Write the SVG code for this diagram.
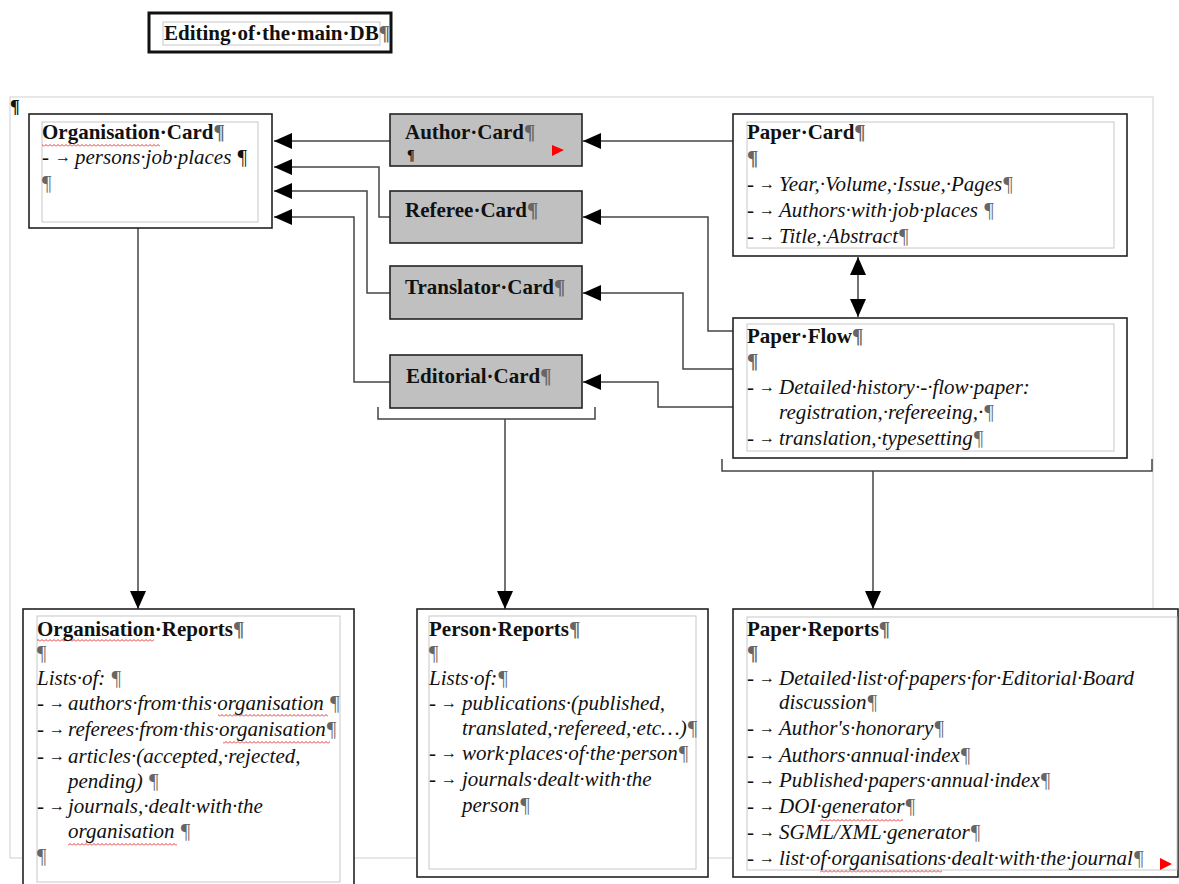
<svg xmlns="http://www.w3.org/2000/svg" width="1179" height="884" viewBox="0 0 1179 884">
  <style>
    .t { font-family: "Liberation Serif", "Times New Roman", serif; font-size: 21px; fill: #111; }
    .b { font-weight: bold; }
    .i { font-style: italic; }
    .pm { fill: #666; }
    .arr { font-size: 16px; }
    .box { fill: #fff; stroke: #222; stroke-width: 1.6; }
    .card { fill: #c0c0c0; stroke: #222; stroke-width: 1.6; }
    .inner { fill: none; stroke: #c8c8c8; stroke-width: 1; }
    .page { fill: none; stroke: #cfcfcf; stroke-width: 1; }
    .conn { fill: none; stroke: #444; stroke-width: 1.5; }
    .wave { fill: url(#wavy); }
  </style>
  <defs>
    <marker id="ah" markerUnits="userSpaceOnUse" markerWidth="18" markerHeight="16" viewBox="0 0 18 16" refX="18" refY="8" orient="auto-start-reverse">
      <path d="M0,0 L18,8 L0,16 z" fill="#000"/>
    </marker>
    <pattern id="wavy" patternUnits="userSpaceOnUse" width="4" height="3">
      <path d="M0,2.5 L2,0.5 L4,2.5" fill="none" stroke="#e02020" stroke-width="0.9"/>
    </pattern>
  </defs>

  <rect width="1179" height="884" fill="#fff"/>

  <!-- page boundary -->
  <rect class="page" x="10" y="97" width="1143" height="761"/>
  <text class="t b" x="10" y="113" style="font-size:18px">¶</text>

  <!-- title -->
  <g id="title">
    <rect x="149" y="13" width="242" height="39" fill="#fff" stroke="#111" stroke-width="3"/>
    <rect class="inner" x="163" y="22" width="217" height="23"/>
    <text class="t b" x="164" y="40">Editing·of·the·main·DB<tspan class="pm">¶</tspan></text>
  </g>

  <!-- connectors -->
  <g id="connectors">
    <path class="conn" d="M390,141 H274" marker-end="url(#ah)"/>
    <path class="conn" d="M390,217 H379 V167 H274" marker-end="url(#ah)"/>
    <path class="conn" d="M390,293 H367 V191 H274" marker-end="url(#ah)"/>
    <path class="conn" d="M390,382 H354 V217 H274" marker-end="url(#ah)"/>
    <path class="conn" d="M733,141 H583" marker-end="url(#ah)"/>
    <path class="conn" d="M733,331 H708 V217 H583" marker-end="url(#ah)"/>
    <path class="conn" d="M733,369 H683 V293 H583" marker-end="url(#ah)"/>
    <path class="conn" d="M733,407 H658 V382 H583" marker-end="url(#ah)"/>
    <path class="conn" d="M858,257 V317" marker-start="url(#ah)" marker-end="url(#ah)"/>
    <path class="conn" d="M138,228 V609" marker-end="url(#ah)"/>
    <path class="conn" d="M378,407 V419 H595 V407"/>
    <path class="conn" d="M505,419 V609" marker-end="url(#ah)"/>
    <path class="conn" d="M722,459 V471 H1152 V459"/>
    <path class="conn" d="M873,471 V609" marker-end="url(#ah)"/>
  </g>

  <!-- Organisation Card -->
  <g id="organisation-card">
    <rect class="box" x="29" y="114" width="243" height="114"/>
    <rect class="inner" x="42" y="122" width="216" height="100"/>
    <rect class="wave" x="42" y="144" width="118" height="3"/>
    <text class="t b" x="42" y="139">Organisation·Card<tspan class="pm">¶</tspan></text>
    <text class="t" x="42" y="164">-<tspan class="arr" x="55" dy="-2">→</tspan><tspan class="i" x="75" dy="2">persons·job·places ¶</tspan></text>
    <text class="t pm" x="42" y="190">¶</text>
  </g>

  <!-- Author Card -->
  <g id="author-card">
    <rect class="card" x="390" y="114" width="192" height="52"/>
    <text class="t b" x="405" y="139">Author·Card<tspan class="pm">¶</tspan></text>
    <text class="t b" x="407" y="160" style="font-size:14px">¶</text>
    <path d="M552,145 L564,150 L552,156 z" fill="#f00"/>
  </g>

  <!-- Referee Card -->
  <g id="referee-card">
    <rect class="card" x="390" y="191" width="192" height="52"/>
    <text class="t b" x="405" y="217">Referee·Card<tspan class="pm">¶</tspan></text>
  </g>

  <!-- Translator Card -->
  <g id="translator-card">
    <rect class="card" x="390" y="266" width="192" height="53"/>
    <text class="t b" x="405" y="294">Translator·Card<tspan class="pm">¶</tspan></text>
  </g>

  <!-- Editorial Card -->
  <g id="editorial-card">
    <rect class="card" x="390" y="355" width="192" height="53"/>
    <text class="t b" x="406" y="383">Editorial·Card<tspan class="pm">¶</tspan></text>
  </g>

  <!-- Paper Card -->
  <g id="paper-card">
    <rect class="box" x="733" y="114" width="394" height="142"/>
    <rect class="inner" x="747" y="122" width="367" height="126"/>
    <text class="t b" x="747" y="139">Paper·Card<tspan class="pm">¶</tspan></text>
    <text class="t b pm" x="747" y="165">¶</text>
    <text class="t" x="747" y="191">-<tspan class="arr" x="759" dy="-2">→</tspan><tspan class="i" x="779" dy="2">Year,·Volume,·Issue,·Pages<tspan class="pm">¶</tspan></tspan></text>
    <text class="t" x="747" y="217">-<tspan class="arr" x="759" dy="-2">→</tspan><tspan class="i" x="779" dy="2">Authors·with·job·places <tspan class="pm">¶</tspan></tspan></text>
    <text class="t" x="747" y="243">-<tspan class="arr" x="759" dy="-2">→</tspan><tspan class="i" x="779" dy="2">Title,·Abstract<tspan class="pm">¶</tspan></tspan></text>
  </g>

  <!-- Paper Flow -->
  <g id="paper-flow">
    <rect class="box" x="733" y="318" width="394" height="140"/>
    <rect class="inner" x="747" y="324" width="367" height="127"/>
    <text class="t b" x="747" y="343">Paper·Flow<tspan class="pm">¶</tspan></text>
    <text class="t b pm" x="747" y="368">¶</text>
    <text class="t" x="747" y="394">-<tspan class="arr" x="759" dy="-2">→</tspan><tspan class="i" x="779" dy="2">Detailed·history·-·flow·paper:</tspan></text>
    <text class="t i" x="779" y="419">registration,·refereeing,·<tspan class="pm">¶</tspan></text>
    <text class="t" x="747" y="445">-<tspan class="arr" x="759" dy="-2">→</tspan><tspan class="i" x="779" dy="2">translation,·typesetting<tspan class="pm">¶</tspan></tspan></text>
  </g>

  <!-- Organisation Reports -->
  <g id="organisation-reports">
    <rect class="box" x="23" y="609" width="331" height="285"/>
    <rect class="inner" x="37" y="616" width="303" height="266"/>
    <rect class="wave" x="37" y="639" width="117" height="3"/>
    <rect class="wave" x="218" y="714" width="110" height="3"/>
    <rect class="wave" x="223" y="741" width="107" height="3"/>
    <rect class="wave" x="68" y="843" width="109" height="3"/>
    <text class="t b" x="37" y="636">Organisation·Reports<tspan class="pm">¶</tspan></text>
    <text class="t pm" x="37" y="660">¶</text>
    <text class="t i" x="37" y="685">Lists·of: <tspan class="pm">¶</tspan></text>
    <text class="t" x="37" y="710">-<tspan class="arr" x="49" dy="-2">→</tspan><tspan class="i" x="68" dy="2">authors·from·this·organisation <tspan class="pm">¶</tspan></tspan></text>
    <text class="t" x="37" y="736">-<tspan class="arr" x="49" dy="-2">→</tspan><tspan class="i" x="68" dy="2">referees·from·this·organisation<tspan class="pm">¶</tspan></tspan></text>
    <text class="t" x="37" y="763">-<tspan class="arr" x="49" dy="-2">→</tspan><tspan class="i" x="68" dy="2">articles·(accepted,·rejected,</tspan></text>
    <text class="t i" x="68" y="788">pending) <tspan class="pm">¶</tspan></text>
    <text class="t" x="37" y="813">-<tspan class="arr" x="49" dy="-2">→</tspan><tspan class="i" x="68" dy="2">journals,·dealt·with·the</tspan></text>
    <text class="t i" x="68" y="838">organisation <tspan class="pm">¶</tspan></text>
    <text class="t pm" x="37" y="863">¶</text>
  </g>

  <!-- Person Reports -->
  <g id="person-reports">
    <rect class="box" x="417" y="609" width="291" height="268"/>
    <rect class="inner" x="429" y="616" width="267" height="253"/>
    <text class="t b" x="429" y="636">Person·Reports<tspan class="pm">¶</tspan></text>
    <text class="t pm" x="429" y="660">¶</text>
    <text class="t i" x="429" y="685">Lists·of:<tspan class="pm">¶</tspan></text>
    <text class="t" x="429" y="710">-<tspan class="arr" x="441" dy="-2">→</tspan><tspan class="i" x="462" dy="2">publications·(published,</tspan></text>
    <text class="t i" x="462" y="735">translated,·refereed,·etc…)<tspan class="pm">¶</tspan></text>
    <text class="t" x="429" y="760">-<tspan class="arr" x="441" dy="-2">→</tspan><tspan class="i" x="462" dy="2">work·places·of·the·person<tspan class="pm">¶</tspan></tspan></text>
    <text class="t" x="429" y="786">-<tspan class="arr" x="441" dy="-2">→</tspan><tspan class="i" x="462" dy="2">journals·dealt·with·the</tspan></text>
    <text class="t i" x="462" y="812">person<tspan class="pm">¶</tspan></text>
  </g>

  <!-- Paper Reports -->
  <g id="paper-reports">
    <rect class="box" x="733" y="609" width="445" height="268"/>
    <rect class="inner" x="747" y="617" width="430" height="253"/>
    <rect class="wave" x="820" y="819" width="83" height="3"/>
    <rect class="wave" x="820" y="870" width="122" height="3"/>
    <text class="t b" x="747" y="636">Paper·Reports<tspan class="pm">¶</tspan></text>
    <text class="t b pm" x="747" y="660">¶</text>
    <text class="t" x="747" y="685">-<tspan class="arr" x="759" dy="-2">→</tspan><tspan class="i" x="779" dy="2">Detailed·list·of·papers·for·Editorial·Board</tspan></text>
    <text class="t i" x="779" y="709">discussion<tspan class="pm">¶</tspan></text>
    <text class="t" x="747" y="735">-<tspan class="arr" x="759" dy="-2">→</tspan><tspan class="i" x="779" dy="2">Author's·honorary<tspan class="pm">¶</tspan></tspan></text>
    <text class="t" x="747" y="762">-<tspan class="arr" x="759" dy="-2">→</tspan><tspan class="i" x="779" dy="2">Authors·annual·index<tspan class="pm">¶</tspan></tspan></text>
    <text class="t" x="747" y="787">-<tspan class="arr" x="759" dy="-2">→</tspan><tspan class="i" x="779" dy="2">Published·papers·annual·index<tspan class="pm">¶</tspan></tspan></text>
    <text class="t" x="747" y="813">-<tspan class="arr" x="759" dy="-2">→</tspan><tspan class="i" x="779" dy="2">DOI·generator<tspan class="pm">¶</tspan></tspan></text>
    <text class="t" x="747" y="839">-<tspan class="arr" x="759" dy="-2">→</tspan><tspan class="i" x="779" dy="2">SGML/XML·generator<tspan class="pm">¶</tspan></tspan></text>
    <text class="t" x="747" y="865">-<tspan class="arr" x="759" dy="-2">→</tspan><tspan class="i" x="779" dy="2">list·of·organisations·dealt·with·the·journal<tspan class="pm">¶</tspan></tspan></text>
    <path d="M1160,858 L1172,864 L1160,870 z" fill="#f00"/>
  </g>
</svg>
